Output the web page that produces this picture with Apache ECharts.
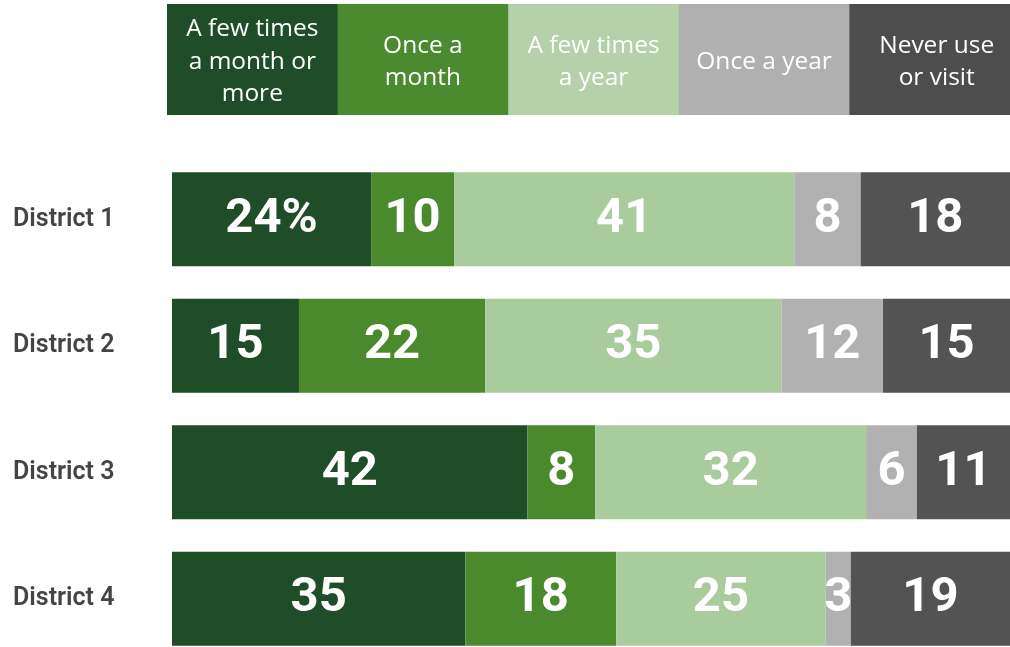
<!DOCTYPE html>
<html>
<head>
<meta charset="utf-8">
<style>html,body{margin:0;padding:0;background:#fff;}#main{width:1010px;height:647px;}</style>
<script src="https://cdn.jsdelivr.net/npm/echarts@6/dist/echarts.min.js"></script>
</head>
<body>
<div id="main"></div>
<script>
const categories = ['District 1', 'District 2', 'District 3', 'District 4'];
const seriesNames = ['A few times\na month or\nmore', 'Once a\nmonth', 'A few times\na year', 'Once a year', 'Never use\nor visit'];
const fewMonth = [24, 15, 42, 35];
const onceMonth = [10, 22, 8, 18];
const fewYear = [41, 35, 32, 25];
const onceYear = [8, 12, 6, 3];
const never = [18, 15, 11, 19];
const colors = ['#1f4d27', '#4a8a2d', '#a9cc9d', '#b1b1b1', '#535353'];
const headerColors = ['#1f4d28', '#4b8a2e', '#b4d1a9', '#b0b0b0', '#4d4d4d'];

const all = [fewMonth, onceMonth, fewYear, onceYear, never];
const sums = categories.map((_, i) => all.reduce((s, arr) => s + arr[i], 0));

const chart = echarts.init(document.getElementById('main'), null, {renderer: 'canvas'});

const gridLeft = 172, gridRight = 0;
const headerTop = 4, headerH = 111;
const headerLeft = 167, headerW = 170.6;

const graphics = [];
seriesNames.forEach((name, k) => {
  graphics.push({
    type: 'rect', left: headerLeft + k * headerW, top: headerTop, silent: true,
    shape: {width: headerW + 1, height: headerH},
    style: {fill: headerColors[k]}
  });
  graphics.push({
    type: 'text', silent: true,
    x: headerLeft + k * headerW + headerW / 2 + (k === 4 ? 2 : 0), y: 62,
    style: {
      text: name, fill: '#ffffff', font: '24.5px "Open Sans", Roboto, sans-serif',
      align: 'center', verticalAlign: 'middle', lineHeight: 32.5
    }
  });
});

chart.setOption({
  animation: false,
  backgroundColor: '#ffffff',
  grid: {left: gridLeft, right: gridRight, top: 156, height: 506, containLabel: false, outerBoundsMode: 'none'},
  xAxis: {type: 'value', min: 0, max: 100, show: false},
  yAxis: {
    type: 'category', data: categories, inverse: true,
    axisLine: {show: false}, axisTick: {show: false}, splitLine: {show: false},
    axisLabel: {
      align: 'left', margin: 159, color: '#444444', fontSize: 25, fontWeight: 600,
      fontFamily: 'Roboto, "Noto Sans", sans-serif'
    }
  },
  graphic: graphics,
  series: all.map((arr, k) => ({
    type: 'bar', stack: 'total', name: seriesNames[k].replace(/\n/g, ' '),
    barWidth: 94,
    itemStyle: {color: colors[k]},
    data: arr.map((v, i) => ({value: v / sums[i] * 100, raw: v})),
    label: {
      show: true, position: 'inside', color: '#ffffff', fontSize: 49, fontWeight: 'bold',
      fontFamily: 'Roboto, "Noto Sans", sans-serif',
      formatter: p => (k === 0 && p.dataIndex === 0) ? p.data.raw + '%' : String(p.data.raw)
    }
  }))
});
</script>
</body>
</html>
